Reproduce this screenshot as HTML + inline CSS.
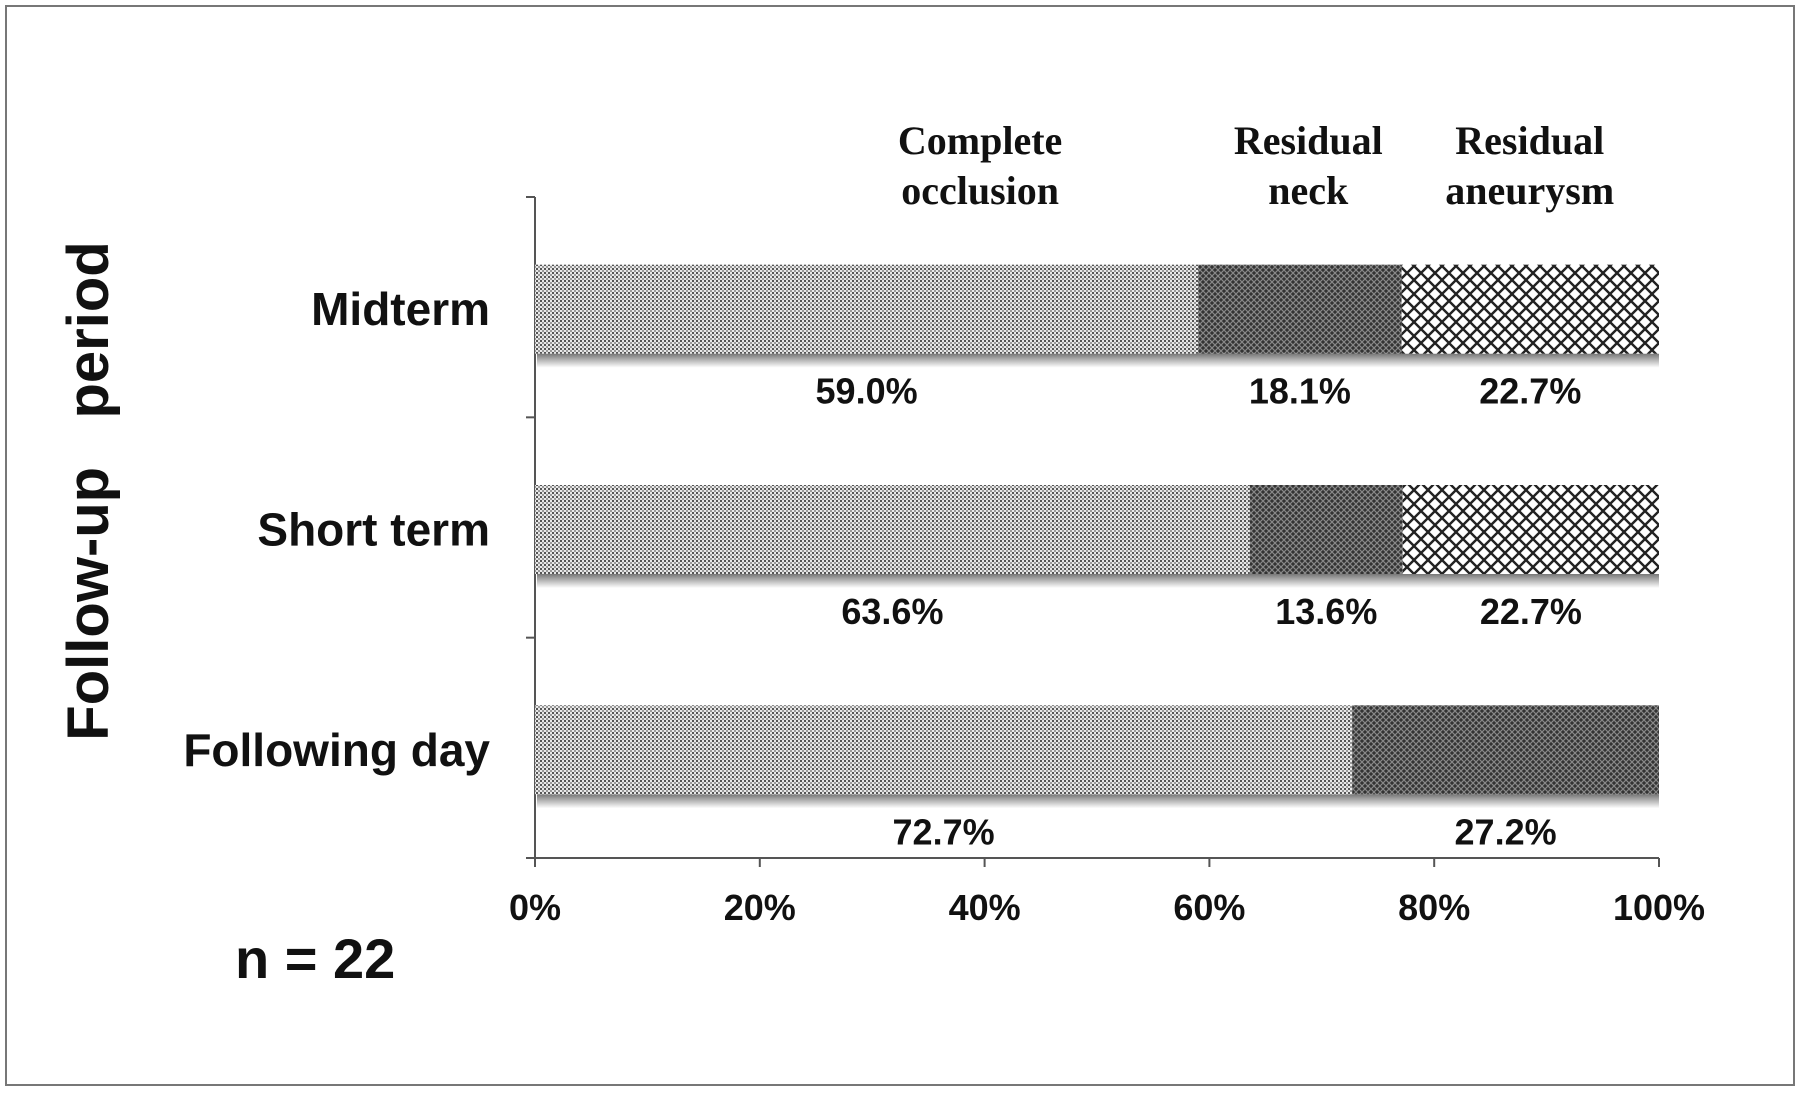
<!DOCTYPE html>
<html><head><meta charset="utf-8"><style>
html,body{margin:0;padding:0;background:#fff;}
svg{display:block;}
</style></head><body>
<svg id="chart" width="1800" height="1096" viewBox="0 0 1800 1096" xmlns="http://www.w3.org/2000/svg">
<defs>
<pattern id="pDots" width="4" height="4" patternUnits="userSpaceOnUse">
<rect width="4" height="4" fill="#e8e8e8"/><rect x="0" y="0" width="2" height="2" fill="#555"/><rect x="2" y="2" width="2" height="2" fill="#999"/>
</pattern>
<pattern id="pDark" width="6" height="6" patternUnits="userSpaceOnUse">
<rect width="6" height="6" fill="#333"/><path d="M0 0L6 6M6 0L0 6" stroke="#888" stroke-width="1.2"/>
</pattern>
<pattern id="pHatch" width="14" height="14" patternUnits="userSpaceOnUse">
<rect width="14" height="14" fill="#fff"/><path d="M0 0L14 14M14 0L0 14" stroke="#222" stroke-width="2.4"/>
</pattern>
<linearGradient id="shadow" x1="0" y1="0" x2="0" y2="1">
<stop offset="0" stop-color="#777"/><stop offset="1" stop-color="#fff"/>
</linearGradient>
</defs>
<rect x="6" y="6" width="1788" height="1079" fill="none" stroke="#777" stroke-width="2"/>
<g id="plot"></g>
</svg>
<script>
const categories = ["Midterm", "Short term", "Following day"];
const complete = [59.0, 63.6, 72.7];
const neck = [18.1, 13.6, 27.3];
const aneurysm = [22.9, 22.8, 0];
const completeLabels = ["59.0%", "63.6%", "72.7%"];
const neckLabels = ["18.1%", "13.6%", "27.2%"];
const aneurysmLabels = ["22.7%", "22.7%", ""];
const xTicks = [0, 20, 40, 60, 80, 100];
const xTickLabels = ["0%", "20%", "40%", "60%", "80%", "100%"];
const seriesNames = [["Complete","occlusion"],["Residual","neck"],["Residual","aneurysm"]];
const seriesHeaderPos = [39.6, 68.8, 88.5];

const NS = "http://www.w3.org/2000/svg";
const g = document.getElementById('plot');
const X0 = 535, X1 = 1659, YT = 197, YB = 858;
const band = (YB - YT) / categories.length;
const barH = 89;
function xs(v){ return X0 + (X1 - X0) * v / 100; }
function bandTop(i){ return YT + band * i; }
function mk(tag, attrs, parent){ const e = document.createElementNS(NS, tag); for (const k in attrs) e.setAttribute(k, attrs[k]); (parent||g).appendChild(e); return e; }
function txt(x, y, s, size, family, anchor){
  const t = mk('text', {x:x, y:y, 'font-size':size, 'font-family':family, 'font-weight':'bold', 'text-anchor':anchor||'middle', fill:'#111'});
  t.textContent = s; return t;
}
const sans = '"Liberation Sans", Arial, sans-serif', serif = '"Liberation Serif", serif';

// axes
const ax = mk('line', {x1:X0, y1:YT, x2:X0, y2:YB, stroke:'#555', 'stroke-width':2});


const bx = mk('line', {x1:X0, y1:YB, x2:X1, y2:YB, stroke:'#555', 'stroke-width':2});


for (let i = 0; i <= categories.length; i++) {
  const ty = YT + band * i;
  const tk = mk('line', {x1:X0-9, y1:ty, x2:X0, y2:ty, stroke:'#555', 'stroke-width':2});
  
  
}
xTicks.forEach((v, i) => {
  const tk = mk('line', {x1:xs(v), y1:YB, x2:xs(v), y2:YB+9, stroke:'#555', 'stroke-width':2});
  
  
  const t = txt(xs(v), 920, xTickLabels[i], 36, sans);
  
  
});

// bars
categories.forEach((c, i) => {
  const y = bandTop(i) + (band - barH) / 2 + 2;
  const sh = mk('rect', {x:X0+2, y:y+barH, width:X1-X0-2, height:14, fill:'url(#shadow)'});
  
  
  const vals = [complete[i], neck[i], aneurysm[i]];
  const labs = [completeLabels[i], neckLabels[i], aneurysmLabels[i]];
  const fills = ['url(#pDots)', 'url(#pDark)', 'url(#pHatch)'];
  const names = ['complete', 'neck', 'aneurysm'];
  let acc = 0;
  vals.forEach((v, k) => {
    if (v > 0) {
      const r = mk('rect', {x:xs(acc), y:y, width:xs(acc+v)-xs(acc), height:barH, fill:fills[k]});
      
      
      if (labs[k]) {
        const t = txt(xs(acc + v/2), y + barH + 50, labs[k], 36, sans);
        
        
      }
    }
    acc += v;
  });
  const cl = txt(490, bandTop(i) + band/2 + 18, c, 46, sans, 'end');
  
  
});

// series headers
seriesNames.forEach((n, k) => {
  const x = xs(seriesHeaderPos[k]);
  const t1 = txt(x, 154, n[0], 40, serif);
  
  
  const t2 = txt(x, 204, n[1], 40, serif);
  
  
});

// y title
const yt = txt(0, 0, 'Follow-up   period', 58, sans);
yt.setAttribute('transform', 'translate(108,491) rotate(-90)');
yt.setAttribute('xml:space', 'preserve');
yt.style.whiteSpace = 'pre';



const n = txt(235, 978, 'n = 22', 56, sans, 'start');


</script>
</body></html>
